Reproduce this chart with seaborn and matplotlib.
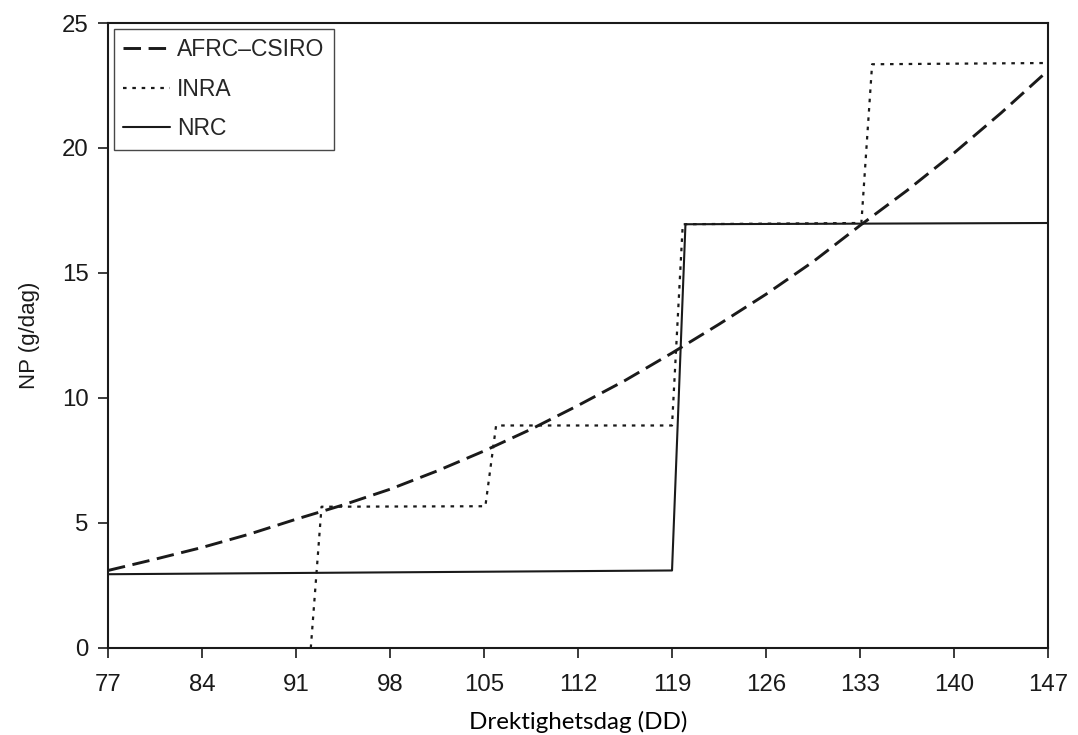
import numpy as np
import pandas as pd
import matplotlib
matplotlib.use("Agg")
import matplotlib.pyplot as plt
import seaborn as sns

# --- data ---
afrc_day = [77, 80.5, 84, 87.5, 91, 94.5, 98, 101.5, 105, 108.5, 112, 115.5,
            119, 122.5, 126, 129.5, 133, 136.5, 140, 143.5, 147]
afrc_np = [3.10, 3.55, 4.02, 4.55, 5.15, 5.72, 6.35, 7.08, 7.88, 8.75, 9.70, 10.70,
           11.80, 12.95, 14.15, 15.45, 16.90, 18.30, 19.80, 21.40, 23.10]

inra_day = [92.1, 92.9, 105.1, 105.9, 119.0, 119.8, 133.1, 133.9, 147]
inra_np = [0.0, 5.65, 5.67, 8.90, 8.90, 16.95, 17.00, 23.35, 23.40]

nrc_day = [77, 119.0, 120.0, 147]
nrc_np = [2.95, 3.10, 16.95, 17.00]

x_ticks = [77, 84, 91, 98, 105, 112, 119, 126, 133, 140, 147]
y_ticks = [0, 5, 10, 15, 20, 25]

labels = ["AFRC\u2013CSIRO", "INRA", "NRC"]
x_label = "Drektighetsdag (DD)"
y_label = "NP (g/dag)"

sns.set_style("ticks")
plt.rcParams["font.family"] = ["Liberation Sans", "DejaVu Sans"]

fig = plt.figure(figsize=(10.78, 7.35), dpi=100)
ax = fig.add_axes([0.1002, 0.1184, 0.872, 0.8503])

df_a = pd.DataFrame({"day": afrc_day, "np": afrc_np})
df_i = pd.DataFrame({"day": inra_day, "np": inra_np})
df_n = pd.DataFrame({"day": nrc_day, "np": nrc_np})

ink = "#1a1a1a"
sns.lineplot(data=df_a, x="day", y="np", ax=ax, color=ink, lw=2.1,
             label=labels[0], sort=False)
sns.lineplot(data=df_i, x="day", y="np", ax=ax, color=ink, lw=1.6,
             label=labels[1], sort=False)
sns.lineplot(data=df_n, x="day", y="np", ax=ax, color=ink, lw=1.5,
             label=labels[2], sort=False)

lines = ax.get_lines()
lines[0].set_dashes((6, 2.6))
lines[1].set_dashes((1.6, 2.6))
lines[2].set_linestyle("-")

ax.set_xlim(77, 147)
ax.set_ylim(0, 25)
ax.set_xticks(x_ticks)
ax.set_yticks(y_ticks)
ax.tick_params(axis="both", direction="out", length=7, width=1.2,
               labelsize=17.3, colors=ink, pad=7)
ax.tick_params(axis="x", pad=11.5)
for s in ax.spines.values():
    s.set_visible(True)
    s.set_linewidth(1.5)
    s.set_color(ink)

ax.set_xlabel(x_label, fontsize=17.4, family=["Lato", "DejaVu Sans"],
              labelpad=11, color="black")
ax.set_ylabel(y_label, fontsize=16, labelpad=16, color=ink)

leg = ax.legend(handles=lines, labels=labels, loc="upper left",
                bbox_to_anchor=(0.0064, 0.990), borderaxespad=0,
                frameon=True, fancybox=False,
                edgecolor=ink, fontsize=16.5, handlelength=2.05,
                handletextpad=0.3, labelspacing=0.72, borderpad=0.4)
leg.get_frame().set_linewidth(1.0)

fig.savefig("out.png", dpi=100)
